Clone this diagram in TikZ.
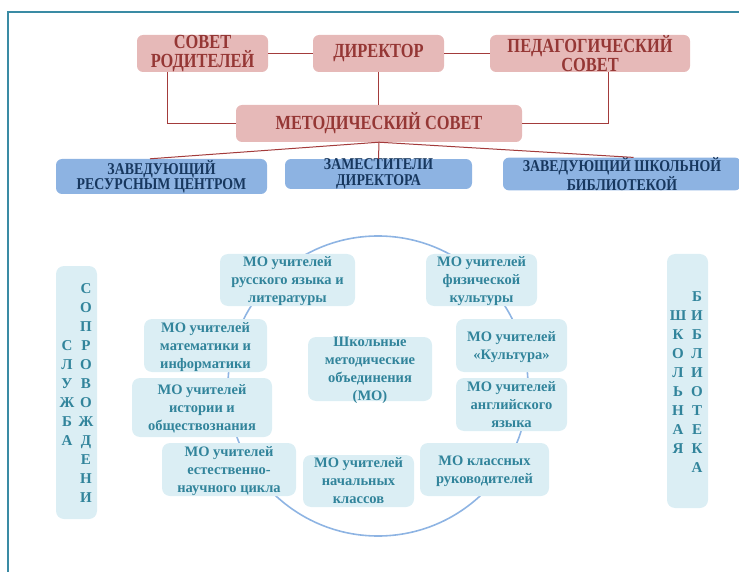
\documentclass[tikz,border=0pt]{standalone}
\usepackage{fontspec}
\setmainfont{Liberation Serif}
\newfontfamily\councilfont[FakeStretch=0.82]{Liberation Serif}
\newfontfamily\deputyfont[FakeStretch=0.84]{Liberation Serif}
\usepackage{array}
\usepackage{tikz}
\usetikzlibrary{positioning, calc}
\definecolor{councilfill}{HTML}{E6B9B8}
\definecolor{councilred}{HTML}{953735}
\definecolor{linkred}{HTML}{A33B3B}
\definecolor{deputyfill}{HTML}{8DB3E2}
\definecolor{deputynavy}{HTML}{17375E}
\definecolor{mofill}{HTML}{DBEEF4}
\definecolor{moteal}{HTML}{31849B}
\definecolor{ringblue}{HTML}{8EB4E3}
\definecolor{frameteal}{HTML}{3A8BA4}

\begin{document}
\begin{tikzpicture}[
    x=1pt, y=-1pt,
    box/.style={rounded corners=6pt, inner sep=0pt, align=center},
    council/.style={box, fill=councilfill, text=councilred,
        font=\councilfont\bfseries\fontsize{20}{18.5}\selectfont},
    deputy/.style={box, fill=deputyfill, text=deputynavy,
        font=\deputyfont\bfseries\fontsize{16.5}{15.5}\selectfont},
    mo/.style={box, rounded corners=8pt, fill=mofill, text=moteal,
        font=\bfseries\fontsize{14.5}{18}\selectfont, text depth=-2pt},
    column/.style={box, rounded corners=8pt, fill=mofill, text=moteal,
        font=\bfseries\fontsize{15}{19}\selectfont},
    link/.style={draw=linkred, line width=1pt},
    ring/.style={draw=ringblue, line width=1.6pt}
]
\useasboundingbox (0,0) rectangle (739,572);

% frame
\draw[frameteal, line width=2pt] (8,572) |- (739,12);

% Administration
\node[council, minimum width=131, minimum height=37] (parents) at (202.5,53.5) {СОВЕТ\\РОДИТЕЛЕЙ};
\node[council, minimum width=131, minimum height=37] (director) at (378.5,53.5) {ДИРЕКТОР};
\node[council, minimum width=200, minimum height=37] (pedsovet) at (590,53.5) {ПЕДАГОГИЧЕСКИЙ\\СОВЕТ};
\node[council, minimum width=286, minimum height=37] (metsovet) at (379,123.5) {МЕТОДИЧЕСКИЙ СОВЕТ};

% Deputies
\node[deputy, minimum width=211, minimum height=35] (resource) at (161.5,176.5) {ЗАВЕДУЮЩИЙ\\РЕСУРСНЫМ ЦЕНТРОМ};
\node[deputy, minimum width=187, minimum height=29] (deputies) at (378.5,174) {ЗАМЕСТИТЕЛИ\\ДИРЕКТОРА};
\node[deputy, minimum width=238, minimum height=30] (library) at (622,174) {ЗАВЕДУЮЩИЙ ШКОЛЬНОЙ\\БИБЛИОТЕКОЙ};

% Links
\draw[link] (parents) -- (director);
\draw[link] (director) -- (pedsovet);
\draw[link] (director.south) -- (director.south |- metsovet.north);
\draw[link] ([xshift=-35.5pt]parents.south) |- (metsovet.west);
\draw[link] ([xshift=18pt]pedsovet.south) |- (metsovet.east);
\draw[link] (metsovet.south) -- ([xshift=-11.5pt]resource.north);
\draw[link] (metsovet.south) -- (deputies.north);
\draw[link] (metsovet.south) -- ([xshift=11.5pt]library.north);

% School methodical unions
\coordinate (hub) at (378,386);
\draw[ring] (hub) circle[radius=150pt];

\node[mo, minimum width=124, minimum height=64] (core) at (370,369) {Школьные\\методические\\объединения\\(МО)};
\node[mo, minimum width=135, minimum height=52] (russian) at (287.5,280) {МО учителей\\русского языка и\\литературы};
\node[mo, minimum width=111, minimum height=52] (sport) at (481.5,280) {МО учителей\\физической\\культуры};
\node[mo, minimum width=123, minimum height=53] (maths) at (205.5,345.5) {МО учителей\\математики и\\информатики};
\node[mo, minimum width=140, minimum height=59] (history) at (202,407.5) {МО учителей\\истории и\\обществознания};
\node[mo, minimum width=134, minimum height=53] (science) at (229,469.5) {МО учителей\\естественно-\\научного цикла};
\node[mo, minimum width=111, minimum height=52] (primary) at (358.5,481) {МО учителей\\начальных\\классов};
\node[mo, minimum width=129, minimum height=53] (tutors) at (484.5,469.5) {МО классных\\руководителей};
\node[mo, minimum width=111, minimum height=53] (culture) at (511.5,345.5) {МО учителей\\«Культура»};
\node[mo, minimum width=111, minimum height=53] (english) at (511.5,404.5) {МО учителей\\английского\\языка};

% Side columns
\node[column, minimum width=41, minimum height=253] (support) at (76.5,392.5) {%
  \begin{tabular}{@{}wc{10pt}@{\hspace{9pt}}wc{10pt}@{}}
   & \rule{0pt}{17pt}С\\ & О\\ & П\\ С & Р\\ Л & О\\ У & В\\ Ж & О\\ Б & Ж\\ А & Д\\ & Е\\ & Н\\ & И
  \end{tabular}};
\node[column, minimum width=41, minimum height=254] (schoollib) at (687.5,381) {%
  \begin{tabular}{@{}wc{10pt}@{\hspace{9pt}}wc{10pt}@{}}
   & \rule{0pt}{17pt}Б\\ Ш & И\\ К & Б\\ О & Л\\ Л & И\\ Ь & О\\ Н & Т\\ А & Е\\ Я & К\\ & А
  \end{tabular}};

\end{tikzpicture}
\end{document}
